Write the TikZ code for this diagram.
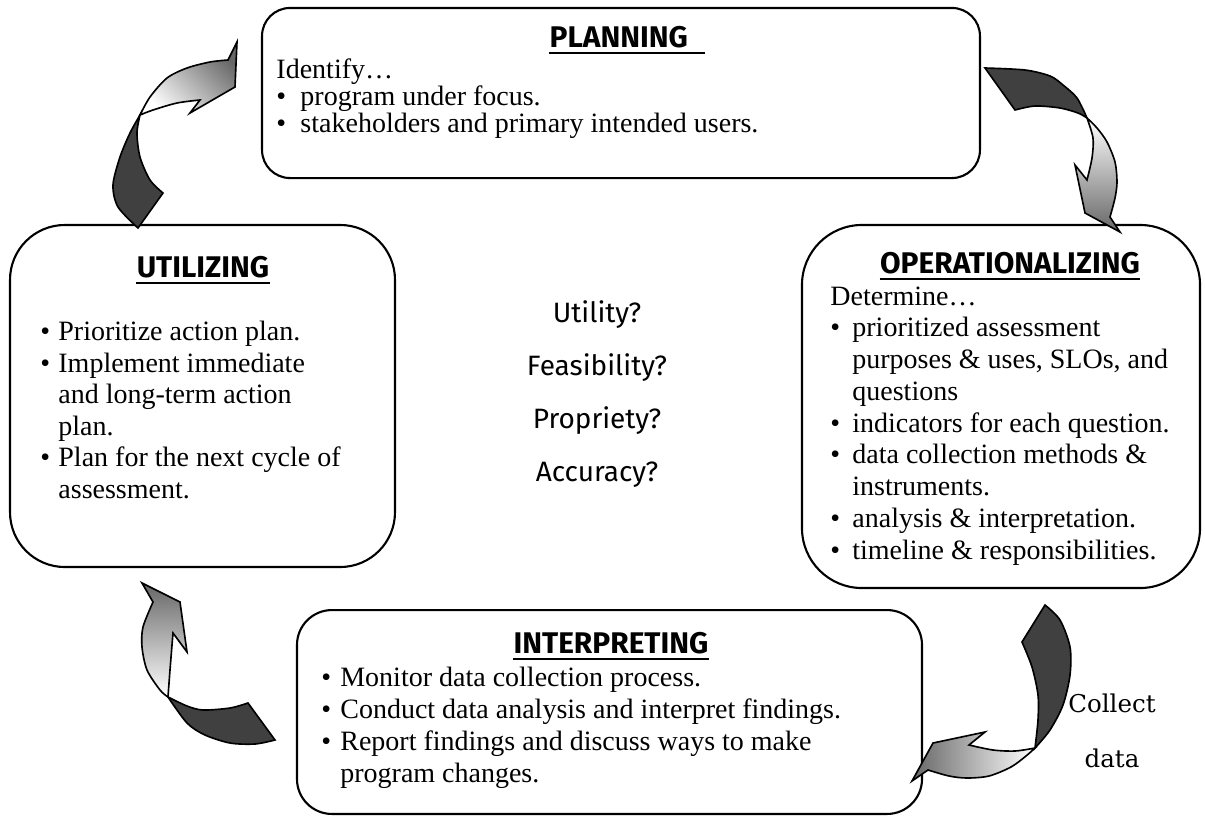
\documentclass[tikz,border=0pt]{standalone}
\usepackage{fontspec}
\setmainfont{Liberation Serif}
\newfontfamily\ttlfont{Fira Sans}
\newfontfamily\cdfont{DejaVu Serif}
\newlength\bw
\newcommand\bitem{\makebox[\bw][l]{\textbullet}}
\newcommand\cont{\hspace*{\bw}}
\begin{document}
\begin{tikzpicture}[x=0.4286pt,y=-0.4286pt,
  box/.style={draw, line width=0.9pt, inner sep=0pt},
  ttl/.style={font=\ttlfont\bfseries\fontsize{12.8}{14}\selectfont, inner sep=0pt, anchor=base},
  body/.style={align=left, inner sep=0pt, anchor=base west},
  ques/.style={font=\ttlfont\fontsize{12}{14}\selectfont, inner sep=0pt, anchor=base},
  cd/.style={font=\cdfont\fontsize{10.5}{12}\selectfont, inner sep=0pt, anchor=base},
  darkpart/.style={fill=black!75, draw=black, line width=0.7pt},
  gradpart/.style={draw=black, line width=0.7pt},
  uline/.style={line width=1.1pt}
]
\useasboundingbox (0,0) rectangle (1205,818);

% boxes
\node[box, minimum width=307.7pt, minimum height=72.9pt, rounded corners=12pt] (planbox) at (621,93) {};
\node[box, minimum width=165pt, minimum height=146.6pt, rounded corners=23.5pt] (utilbox) at (202.5,396) {};
\node[box, minimum width=170.6pt, minimum height=155.6pt, rounded corners=25.7pt] (operbox) at (1001,406.5) {};
\node[box, minimum width=267.9pt, minimum height=87.4pt, rounded corners=15pt] (interbox) at (609.5,712) {};

% titles
\node[ttl] (tplan) at (627,47) {PLANNING\kern7pt};
\node[ttl] (tutil) at (203,277) {UTILIZING};
\node[ttl] (toper) at (1010,273) {OPERATIONALIZING};
\node[ttl] (tinter) at (611,653) {INTERPRETING};
\foreach \t in {tplan,tutil,toper,tinter}
  \draw[uline] ([yshift=-2.6pt]\t.base west) -- ([yshift=-2.6pt]\t.base east);

% body texts (anchored at the baseline of their last line)
\node[body, font=\fontsize{12}{11.4}\selectfont\setlength\bw{10.3pt}] (bplan) at (276,132)
 {Identify…\\
  \bitem program under focus.\\
  \bitem stakeholders and primary intended users.};
\node[body, font=\fontsize{12}{13.5}\selectfont\setlength\bw{7.7pt}] (butil) at (40,498)
 {\bitem Prioritize action plan.\\
  \bitem Implement immediate\\
  \cont and long-term action\\
  \cont plan.\\
  \bitem Plan for the next cycle of\\
  \cont assessment.};
\node[body, font=\fontsize{12}{13.6}\selectfont\setlength\bw{9.4pt}] (boper) at (830,559)
 {Determine…\\
  \bitem prioritized assessment\\
  \cont purposes \& uses, SLOs, and\\
  \cont questions\\
  \bitem indicators for each question.\\
  \bitem data collection methods \&\\
  \cont instruments.\\
  \bitem analysis \& interpretation.\\
  \bitem timeline \& responsibilities.};
\node[body, font=\fontsize{12}{13.6}\selectfont\setlength\bw{8.1pt}] (binter) at (321,782)
 {\bitem Monitor data collection process.\\
  \bitem Conduct data analysis and interpret findings.\\
  \bitem Report findings and discuss ways to make\\
  \cont program changes.};

% centre questions
\node[ques] (q1) at (597,322) {Utility?};
\node[ques] (q2) at (597,375) {Feasibility?};
\node[ques] (q3) at (597,428) {Propriety?};
\node[ques] (q4) at (597,481) {Accuracy?};

% collect data
\node[cd] (cd1) at (1112,712) {Collect};
\node[cd] (cd2) at (1112,767) {data};

% arrow A (utilizing -> planning)
\filldraw[darkpart] plot[smooth] coordinates {(140,115) (130,133) (120,157) (113,185) (118,207) (138,228)}
  -- (163,193) -- plot[smooth] coordinates {(163,193) (150,180) (140,157) (137,133) (140,115)} -- cycle;
\shadedraw[gradpart, top color=black!60, bottom color=white, shading angle=-45]
  plot[smooth] coordinates {(140,115) (150,97) (167,78) (187,68) (210,62) (228,60)}
  -- (237,42) -- (235,87) -- (190,113) -- (200,100)
  -- plot[smooth] coordinates {(200,100) (177,103) (153,110) (140,115)} -- cycle;

% arrow B (planning -> operationalizing)
\filldraw[darkpart] plot[smooth] coordinates {(985,68) (1025,70) (1050,76) (1063,85) (1077,98) (1087,118)}
  -- plot[smooth] coordinates {(1087,118) (1078,113) (1060,108) (1035,106) (1015,110)} -- cycle;
\shadedraw[gradpart, top color=white, bottom color=black!60]
  plot[smooth] coordinates {(1087,118) (1097,128) (1107,142) (1115,162) (1117,182) (1115,198) (1110,217)}
  -- (1120,232) -- (1085,213) -- (1075,165) -- (1087,180)
  -- plot[smooth] coordinates {(1087,180) (1092,158) (1093,138) (1087,118)} -- cycle;

% arrow C (operationalizing -> interpreting)
\filldraw[darkpart] plot[smooth] coordinates {(1045,605) (1060,620) (1070,647) (1070,675) (1063,705) (1050,730) (1035,748)}
  -- plot[smooth] coordinates {(1035,748) (1038,720) (1038,695) (1032,667) (1022,642)} -- cycle;
\shadedraw[gradpart, left color=black!60, right color=white]
  plot[smooth] coordinates {(1035,748) (1026,756) (1011,767) (989,776) (967,778) (949,776) (928,770)}
  -- (912,781) -- (933,743) -- (985,732) -- (969,745)
  -- plot[smooth] coordinates {(969,745) (993,750) (1015,751) (1035,748)} -- cycle;

% arrow D (interpreting -> utilizing)
\filldraw[darkpart] plot[smooth] coordinates {(168,697) (187,706) (203,710) (230,708) (248,703)}
  -- (275,740) -- plot[smooth] coordinates {(275,740) (255,744) (230,743) (205,735) (187,723) (168,697)} -- cycle;
\shadedraw[gradpart, top color=black!60, bottom color=white]
  plot[smooth] coordinates {(168,697) (160,690) (147,670) (142,647) (143,627) (153,602)}
  -- (142,583) -- (180,602) -- (187,652) -- (173,633)
  -- plot[smooth] coordinates {(173,633) (170,670) (168,697)} -- cycle;
\end{tikzpicture}
\end{document}
